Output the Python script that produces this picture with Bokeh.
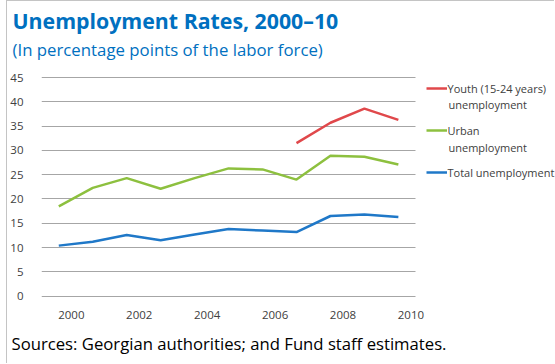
from bokeh.plotting import figure
from bokeh.models import (FixedTicker, CustomJSTickFormatter, Label, Legend, LegendItem,
                          Range1d, Title)
from bokeh.embed import file_html
from bokeh.resources import INLINE

# ---- data ----
years = [2000, 2001, 2002, 2003, 2004, 2005, 2006, 2007, 2008, 2009, 2010]
total = [10.4, 11.2, 12.6, 11.5, 12.7, 13.8, 13.5, 13.2, 16.5, 16.8, 16.3]
urban = [18.5, 22.3, 24.3, 22.1, 24.3, 26.3, 26.1, 24.0, 28.9, 28.7, 27.1]
youth_years = [2007, 2008, 2009, 2010]
youth = [31.5, 35.7, 38.6, 36.3]
y_ticks = [0, 5, 10, 15, 20, 25, 30, 35, 40, 45]
x_label_years = [2000, 2002, 2004, 2006, 2008, 2010]

title_text = "Unemployment Rates, 2000\u201310"
subtitle_text = "(In percentage points of the labor force)"
source_text = "Sources: Georgian authorities; and Fund staff estimates."

FONT = "Open Sans"
RED, GREEN, BLUE = "#E0484B", "#8DC03F", "#1F78C8"
TITLE_BLUE = "#0070C0"
TXT = "#404040"

p = figure(width=548, height=363, output_backend="svg", toolbar_location=None, title=None,
           x_range=Range1d(1999.491, 2014.627), y_range=Range1d(-0.49, 46.05),
           min_border_left=32, min_border_right=0, min_border_top=71, min_border_bottom=66)
p.styles = {"margin-left": "5.5px", "border-left": "1.5px solid #C4C4C4",
            "border-top": "1px solid #C4C4C4"}
p.outline_line_color = None

r_total = p.line(years, total, line_color=BLUE, line_width=2.5)
r_urban = p.line(years, urban, line_color=GREEN, line_width=2.5)
r_youth = p.line(youth_years, youth, line_color=RED, line_width=2.5)

# axes
p.yaxis.ticker = FixedTicker(ticks=y_ticks)
p.xaxis.ticker = FixedTicker(ticks=[y + 0.37 for y in x_label_years])
p.xaxis.formatter = CustomJSTickFormatter(code="return Math.round(tick).toString()")
for ax in (p.xaxis[0], p.yaxis[0]):
    ax.axis_line_color = None
    ax.major_tick_line_color = None
    ax.minor_tick_line_color = None
    ax.major_label_text_font = FONT
    ax.major_label_text_font_size = "11.5px"
    ax.major_label_text_color = TXT
p.yaxis.major_label_standoff = 12
p.xaxis.major_label_standoff = 6

p.xgrid.grid_line_color = None
p.ygrid.ticker = FixedTicker(ticks=y_ticks)
p.ygrid.cross_bounds = (1999.5, 2010.5)
p.ygrid.grid_line_color = "#A6A6A6"
p.ygrid.grid_line_width = 1

# legend
legend = Legend(items=[LegendItem(label="Youth (15-24 years)", renderers=[r_youth]),
                       LegendItem(label="Urban", renderers=[r_urban]),
                       LegendItem(label="Total unemployment", renderers=[r_total])],
                location=(385, 117.7), margin=0, padding=0, spacing=26,
                glyph_width=21, glyph_height=16, label_height=16, label_standoff=1,
                label_text_font=FONT, label_text_font_size="11px", label_text_color=TXT,
                border_line_color=None, background_fill_alpha=0)
p.add_layout(legend, "center")

for ly in (193.7, 150.7):
    p.add_layout(Label(x=407, y=ly, x_units="screen", y_units="screen", text="unemployment",
                       text_font=FONT, text_font_size="11px", text_color=TXT,
                       text_baseline="middle"))

# titles and source
p.add_layout(Title(text=subtitle_text, align="left", offset=-29, standoff=23,
                   text_font=FONT, text_font_size="16.8px", text_font_style="normal",
                   text_color=TITLE_BLUE), "above")
p.add_layout(Title(text=title_text, align="left", offset=-29, standoff=-20,
                   text_font=FONT, text_font_size="21.3px", text_font_style="bold",
                   text_color=TITLE_BLUE), "above")
p.add_layout(Title(text=source_text, align="left", offset=-30, standoff=16,
                   text_font=FONT, text_font_size="16.7px", text_font_style="normal",
                   text_color="#000000"), "below")

open("out.html", "w").write(file_html(p, INLINE))
